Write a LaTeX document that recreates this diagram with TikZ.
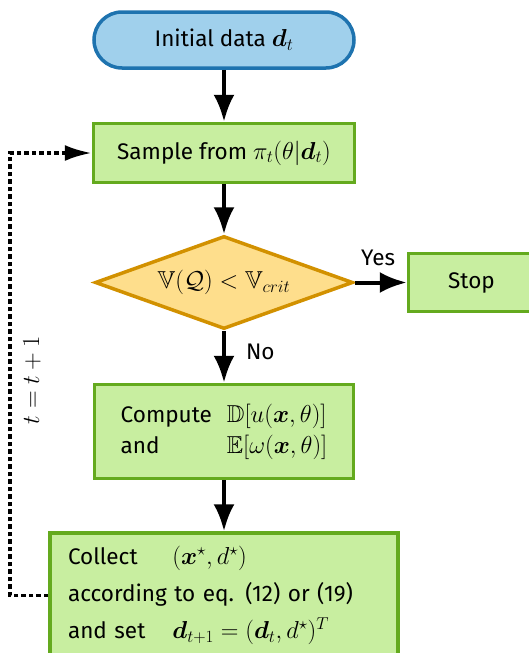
\RequirePackage{fix-cm}
\documentclass[tikz,border=0pt]{standalone}
\usepackage{amsmath,amsfonts,amssymb}
\usepackage{fontspec}
\setmainfont{Fira Sans}[Scale=0.92]
\usetikzlibrary{positioning,shapes.geometric,arrows.meta}
\definecolor{startfill}{RGB}{160,208,236}
\definecolor{startline}{RGB}{30,115,175}
\definecolor{boxfill}{RGB}{200,238,160}
\definecolor{boxline}{RGB}{100,170,30}
\definecolor{testfill}{RGB}{254,222,140}
\definecolor{testline}{RGB}{210,145,0}
\tikzset{
  >={Latex[length=27pt,width=21pt]},
  flow/.style     ={line width=4pt, ->},
  feedback/.style ={line width=3.5pt, dash pattern=on 4.5pt off 3pt,
                    -{Latex[length=27pt,width=16pt]}},
  lab/.style      ={font=\fontsize{24.5}{30}\selectfont},
  base/.style     ={lab, draw, line width=3.5pt, inner sep=0pt},
  startbox/.style ={base, rectangle, rounded corners=28pt, fill=startfill, draw=startline},
  procbox/.style  ={base, rectangle, fill=boxfill, draw=boxline},
  testbox/.style  ={base, diamond, aspect=2.8, fill=testfill, draw=testline},
}

\begin{document}
\begin{tikzpicture}[x=1pt,y=1pt]
  \useasboundingbox (0,0) rectangle (528,-653);

  % main column
  \node[startbox, minimum width=260pt, minimum height=56pt] (init) at (224,-40)
    {Initial data $\boldsymbol{d}_t$};
  \node[procbox, minimum width=261pt, minimum height=59pt, below=52pt of init] (sample)
    {Sample from $\pi_t(\theta|\boldsymbol{d}_t)$};
  \node[testbox, minimum width=258pt, minimum height=93pt, below=50pt of sample] (test)
    {$\mathbb{V}(\mathcal{Q})<\mathbb{V}_{crit}$};
  \node[procbox, minimum width=259pt, minimum height=94pt, below=52pt of test] (compute)
    {\begin{tabular}{@{}l@{\hspace{15pt}}l@{}}
      Compute & $\mathbb{D}[u(\boldsymbol{x},\theta)]$\\[1pt]
      and     & $\mathbb{E}[\omega(\boldsymbol{x},\theta)]$
    \end{tabular}};
  \node[procbox, text width=312pt, inner xsep=18pt, minimum height=125pt, align=left,
        below=51pt of compute] (collect)
    {\begin{tabular}{@{}l@{\hspace{27pt}}l@{}}
      Collect & $(\boldsymbol{x}^\star,d^\star)$\\[7pt]
      \multicolumn{2}{@{}l@{}}{according to eq. (12) or (19)}\\[7pt]
      and set & $\boldsymbol{d}_{t+1}=(\boldsymbol{d}_t,d^\star)^T$
    \end{tabular}};

  % stop branch
  \node[procbox, minimum width=126pt, minimum height=58pt, right=52pt of test] (stop) {Stop};

  % arrows
  \draw[flow] (init) -- (sample);
  \draw[flow] (sample) -- (test);
  \draw[flow] (test) -- node[lab, pos=0.4, right=17pt] (no) {No} (compute);
  \draw[flow] (test) -- node[lab, pos=0.45, above=12pt] (yes) {Yes} (stop);
  \draw[flow] (compute) -- (collect);

  % feedback loop
  \coordinate (back) at (10,0);
  \draw[feedback] (collect.west) -| (back |- sample.west) -- (sample.west);
  \node[lab, rotate=90] (incr) at (32,-380) {$t=t+1$};
\end{tikzpicture}
\end{document}
